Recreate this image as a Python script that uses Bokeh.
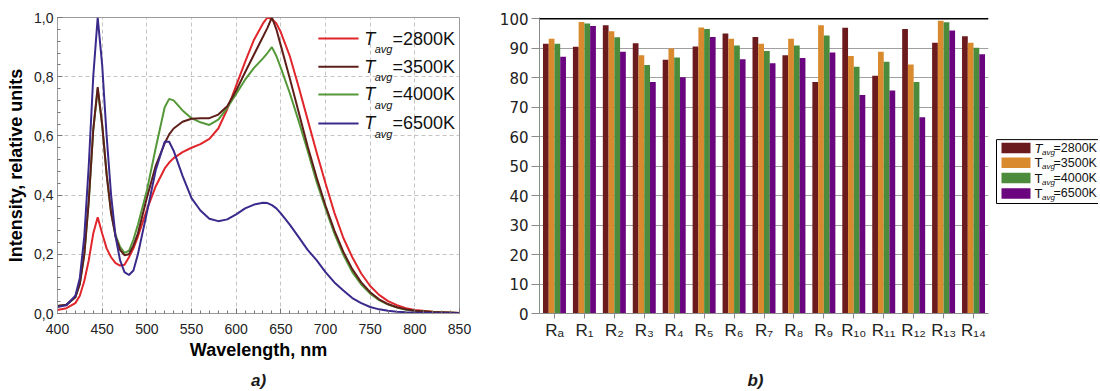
from bokeh.plotting import figure
from bokeh.models import (Range1d, FixedTicker, CustomJSTickFormatter, Span,
                          FactorRange, ColumnDataSource)
from bokeh.transform import dodge
from bokeh.layouts import row, column
from bokeh.embed import file_html
from bokeh.resources import INLINE
from bokeh.core.properties import value

# ---------------- data: (a) spectra ----------------
wavelength = [400, 410, 420, 425, 430, 435, 440, 445, 450, 455, 460, 465, 470, 475, 480, 485, 490,
              500, 510, 520, 525, 530, 540, 550, 560, 570, 580, 590, 600, 610, 620, 630, 635, 640,
              645, 650, 660, 670, 680, 690, 700, 710, 720, 730, 740, 750, 760, 770, 780, 790, 800,
              820, 850]
i_2800 = [0.012, 0.018, 0.035, 0.06, 0.11, 0.18, 0.27, 0.325, 0.27, 0.22, 0.19, 0.17, 0.162, 0.165,
          0.19, 0.22, 0.26, 0.35, 0.43, 0.49, 0.51, 0.525, 0.545, 0.56, 0.572, 0.59, 0.625, 0.69,
          0.77, 0.85, 0.925, 0.98, 1.0, 0.995, 0.98, 0.95, 0.87, 0.765, 0.655, 0.545, 0.44, 0.34,
          0.255, 0.19, 0.135, 0.093, 0.063, 0.042, 0.028, 0.018, 0.012, 0.006, 0.002]
i_3500 = [0.025, 0.03, 0.055, 0.1, 0.2, 0.38, 0.62, 0.765, 0.64, 0.47, 0.34, 0.26, 0.215, 0.197,
          0.2, 0.23, 0.27, 0.39, 0.5, 0.575, 0.605, 0.625, 0.648, 0.658, 0.66, 0.66, 0.672, 0.7,
          0.753, 0.815, 0.875, 0.935, 0.965, 1.0, 0.96, 0.905, 0.795, 0.68, 0.565, 0.46, 0.365,
          0.28, 0.208, 0.15, 0.105, 0.072, 0.048, 0.032, 0.021, 0.014, 0.009, 0.005, 0.002]
i_4000 = [0.025, 0.03, 0.055, 0.1, 0.2, 0.38, 0.62, 0.76, 0.635, 0.47, 0.34, 0.265, 0.225, 0.205,
          0.212, 0.25, 0.3, 0.415, 0.56, 0.697, 0.725, 0.72, 0.686, 0.66, 0.646, 0.637, 0.655,
          0.695, 0.742, 0.79, 0.83, 0.862, 0.88, 0.9, 0.87, 0.83, 0.745, 0.65, 0.55, 0.445, 0.355,
          0.27, 0.198, 0.14, 0.098, 0.067, 0.045, 0.03, 0.02, 0.013, 0.009, 0.005, 0.002]
i_6500 = [0.022, 0.028, 0.06, 0.12, 0.26, 0.5, 0.8, 1.0, 0.84, 0.6, 0.4, 0.26, 0.18, 0.14, 0.13,
          0.145, 0.2, 0.34, 0.485, 0.58, 0.58, 0.55, 0.465, 0.39, 0.348, 0.32, 0.312, 0.318, 0.335,
          0.355, 0.368, 0.374, 0.373, 0.366, 0.355, 0.338, 0.3, 0.258, 0.215, 0.18, 0.14, 0.105,
          0.078, 0.052, 0.035, 0.022, 0.014, 0.009, 0.006, 0.004, 0.003, 0.002, 0.001]
spectra_names = ["=2800K", "=3500K", "=4000K", "=6500K"]

# ---------------- data: (b) colour rendering indices ----------------
cri_labels = ["R\u2090", "R\u2081", "R\u2082", "R\u2083", "R\u2084", "R\u2085", "R\u2086",
              "R\u2087", "R\u2088", "R\u2089", "R\u2081\u2080", "R\u2081\u2081",
              "R\u2081\u2082", "R\u2081\u2083", "R\u2081\u2084"]
cri_2800 = [91.5, 90.5, 97.8, 91.7, 86.1, 90.6, 95.0, 93.8, 87.6, 78.5, 96.9, 80.6, 96.5, 91.8, 94.0]
cri_3500 = [93.2, 98.9, 95.7, 87.6, 89.9, 97.0, 93.2, 91.5, 93.2, 97.8, 87.3, 88.8, 84.5, 99.3, 91.8]
cri_4000 = [91.5, 98.4, 93.7, 84.3, 86.8, 96.5, 90.9, 89.0, 90.9, 94.3, 83.7, 85.4, 78.5, 98.8, 90.1]
cri_6500 = [87.1, 97.5, 88.8, 78.5, 80.1, 93.8, 86.2, 84.9, 86.7, 88.5, 74.1, 75.6, 66.6, 96.0, 87.9]
cri_names = ["=2800K", "=3500K", "=4000K", "=6500K"]

panel_tags = ["a)", "b)"]

FONT_NAME = "Liberation Sans"
FONT = value(FONT_NAME)
H = 366        # height of the chart row
HS = 24        # height of the caption strip below

# ================= (a) =================
line_colors = ["#e0252b", "#5e1e1a", "#55983a", "#3b2a8c"]
p1 = figure(width=480, height=H, x_range=Range1d(400, 850), y_range=Range1d(0, 1.0),
            output_backend="svg", toolbar_location=None,
            min_border_left=57, min_border_right=21, min_border_top=17, min_border_bottom=53)
p1.outline_line_color = "#9a9a9a"
p1.xaxis.ticker = FixedTicker(ticks=list(range(400, 851, 50)),
                              minor_ticks=list(range(400, 851, 10)))
p1.yaxis.ticker = FixedTicker(ticks=[0, 0.2, 0.4, 0.6, 0.8, 1.0],
                              minor_ticks=[i * 0.04 for i in range(26)])
p1.yaxis.formatter = CustomJSTickFormatter(code="return tick.toFixed(1).replace('.', ',')")
for ax in (p1.xaxis, p1.yaxis):
    ax.axis_line_color = "#9a9a9a"
    ax.major_tick_in = 5
    ax.major_tick_out = 0
    ax.minor_tick_in = 3
    ax.minor_tick_out = 0
    ax.major_tick_line_color = "#777777"
    ax.minor_tick_line_color = "#777777"
    ax.major_label_text_font = FONT_NAME
    ax.major_label_text_font_size = "14px"
    ax.major_label_text_color = "#222222"
    ax.axis_label_text_font = FONT_NAME
    ax.axis_label_text_font_size = "18px"
    ax.axis_label_text_font_style = "bold"
    ax.axis_label_text_color = "#000000"
p1.xaxis.major_label_standoff = 10
p1.xaxis.axis_label_standoff = 3
p1.yaxis.major_label_standoff = 4
p1.yaxis.axis_label_standoff = 5
p1.xaxis.axis_label = "Wavelength, nm"
p1.yaxis.axis_label = "Intensity, relative units"
for g in (p1.xgrid, p1.ygrid):
    g.grid_line_color = "#c4c4c4"
    g.grid_line_dash = "4 3"

p1.line(wavelength, i_2800, line_color=line_colors[0], line_width=2)
p1.line(wavelength, i_4000, line_color=line_colors[2], line_width=2)
p1.line(wavelength, i_3500, line_color=line_colors[1], line_width=2)
p1.line(wavelength, i_6500, line_color=line_colors[3], line_width=2)

# legend of (a)
leg_y = [0.929, 0.834, 0.740, 0.642]
p1.segment(x0=[692] * 4, x1=[737] * 4, y0=leg_y, y1=leg_y, line_color=line_colors, line_width=2)
p1.text(x=[743.5] * 4, y=leg_y, text=["T"] * 4, text_font=FONT, text_font_size="18px",
        text_font_style="italic", text_baseline="middle", text_color="#111111")
p1.text(x=[755] * 4, y=[v - 0.036 for v in leg_y], text=["avg"] * 4, text_font=FONT,
        text_font_size="11px", text_font_style="italic", text_baseline="middle",
        text_color="#111111")
p1.text(x=[775] * 4, y=leg_y, text=spectra_names, text_font=FONT, text_font_size="18px",
        text_baseline="middle", text_color="#111111")

# ================= (b) =================
bar_colors = ["#6b1a1e", "#d98a2e", "#4b8b3b", "#6a057f"]
src = ColumnDataSource(dict(cat=cri_labels, s2800=cri_2800, s3500=cri_3500,
                            s4000=cri_4000, s6500=cri_6500))
p2 = figure(width=510, height=H, x_range=FactorRange(factors=cri_labels, range_padding=0),
            y_range=Range1d(0, 100.4), output_backend="svg", toolbar_location=None,
            min_border_left=59, min_border_right=2, min_border_top=17, min_border_bottom=51)
p2.outline_line_color = None
offsets = [-0.288, -0.096, 0.096, 0.288]
for col, off, c in zip(["s2800", "s3500", "s4000", "s6500"], offsets, bar_colors):
    p2.vbar(x=dodge("cat", off, range=p2.x_range), top=col, width=0.192, source=src,
            fill_color=c, line_color=None)
p2.xgrid.grid_line_color = None
p2.ygrid.grid_line_color = "#a0a0a0"
p2.ygrid.grid_line_width = 1.2
p2.yaxis.ticker = FixedTicker(ticks=list(range(0, 101, 10)))
p2.add_layout(Span(location=100, dimension="width", line_color="black", line_width=1.5))
p2.yaxis.axis_line_color = "#8a8a8a"
p2.yaxis.major_tick_out = 8
p2.yaxis.major_tick_in = 0
p2.yaxis.minor_tick_line_color = None
p2.yaxis.major_tick_line_color = "#8a8a8a"
p2.yaxis.major_label_text_font = "DejaVu Sans"
p2.yaxis.major_label_text_font_size = "15px"
p2.yaxis.major_label_text_color = "#222222"
p2.yaxis.major_label_standoff = 3
p2.xaxis.axis_line_color = "#8a8a8a"
p2.xaxis.major_tick_out = 5
p2.xaxis.major_tick_in = 0
p2.xaxis.major_tick_line_color = "#8a8a8a"
p2.xaxis.major_label_text_font = FONT_NAME
p2.xaxis.major_label_text_font_size = "17px"
p2.xaxis.major_label_text_color = "#222222"
p2.xaxis.major_label_standoff = 2

# ================= legend of (b) =================
W3 = 108
p3 = figure(width=W3, height=H, x_range=Range1d(0, W3), y_range=Range1d(H, 0),
            output_backend="svg", toolbar_location=None, x_axis_type=None, y_axis_type=None,
            min_border=0)
p3.outline_line_color = None
p3.quad(left=[6], right=[W3 + 5], top=[151], bottom=[230], fill_color=None,
        line_color="black", line_width=1)
row_y = [161.5, 179.5, 198.5, 217.5]
p3.quad(left=[11] * 4, right=[40] * 4, top=[v - 6.5 for v in row_y],
        bottom=[v + 6.5 for v in row_y], fill_color=bar_colors, line_color=None)
p3.text(x=[44] * 4, y=row_y, text=["T"] * 4, text_font=FONT, text_font_size="13px",
        text_font_style=["italic", "normal", "normal", "normal"], text_baseline="middle",
        text_color="#111111")
p3.text(x=[51.5] * 4, y=[v + 5 for v in row_y], text=["avg"] * 4, text_font=FONT,
        text_font_size="8px", text_font_style="italic", text_baseline="middle",
        text_color="#111111")
p3.text(x=[63] * 4, y=row_y, text=cri_names, text_font=FONT, text_font_size="12.5px",
        text_baseline="middle", text_color="#111111")

# ================= caption strip: a) b) =================
WS = 480 + 510 + W3
p4 = figure(width=WS, height=HS, x_range=Range1d(0, WS), y_range=Range1d(HS, 0),
            output_backend="svg", toolbar_location=None, x_axis_type=None, y_axis_type=None,
            min_border=0)
p4.outline_line_color = None
p4.text(x=[258, 755], y=[14, 14], text=panel_tags, text_font=FONT, text_font_size="17px",
        text_font_style="bold italic", text_align="center", text_baseline="middle",
        text_color="#1a1a1a")

layout = column(row(p1, p2, p3), p4)
open("out.html", "w").write(file_html(layout, INLINE))
